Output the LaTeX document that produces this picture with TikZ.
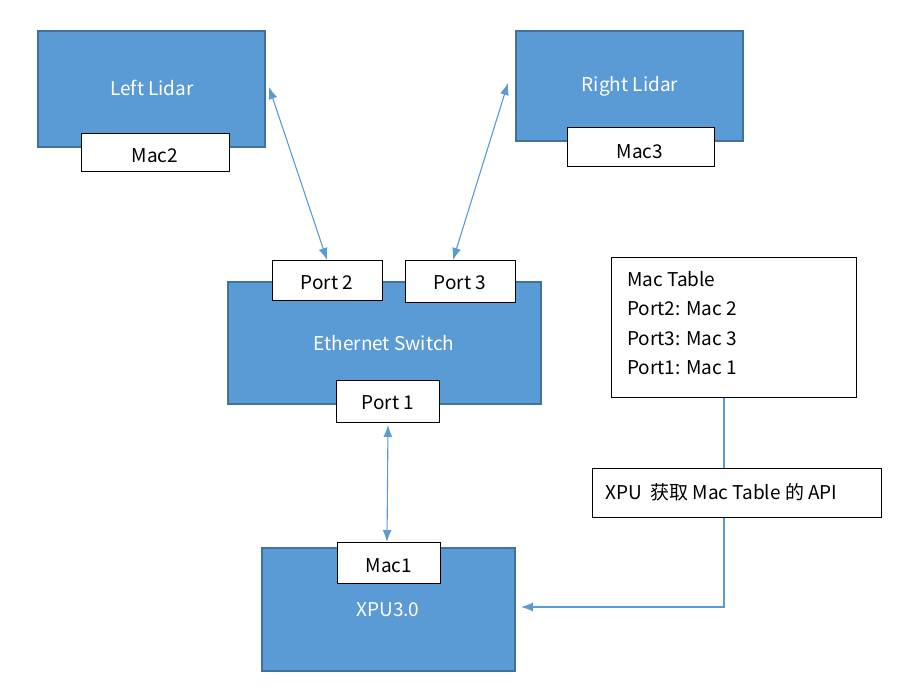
\documentclass[tikz,border=0pt]{standalone}
\usepackage{fontspec}
\setmainfont{Noto Sans CJK SC}
\usetikzlibrary{arrows.meta}
\definecolor{boxfill}{HTML}{5B9BD5}
\definecolor{boxedge}{HTML}{41719C}
\definecolor{linec}{HTML}{5B9BD5}
\begin{document}
\begin{tikzpicture}[x=1pt,y=-1pt,
  bluebox/.style={draw=boxedge,fill=boxfill,line width=1.6pt,inner sep=0pt,text=white},
  whitebox/.style={draw=black,fill=white,line width=1pt,inner sep=0pt},
  link/.style={draw=linec,line width=1.1pt,{Latex[length=12pt,width=9pt]}-{Latex[length=12pt,width=9pt]}},
  lbl/.style={font=\fontsize{19}{21}\selectfont,inner sep=0pt}
]
\useasboundingbox (0,0) rectangle (916,691);
% blue boxes
\draw[bluebox] (38,31) rectangle (265,147);
\node[lbl,text=white] (ll) at (152,88) {Left Lidar};
\draw[bluebox] (516,31) rectangle (743,141);
\node[lbl,text=white] (rl) at (630,86) {Right Lidar};
\draw[bluebox] (228,282) rectangle (541,404);
\node[lbl,text=white] (es) at (384,343) {Ethernet Switch};
\draw[bluebox] (262,548) rectangle (515,671);
\node[lbl,text=white] (xpu) at (388,610) {XPU3.0};
% white labels
\draw[whitebox] (81,133) rectangle (229,171);
\node[lbl] (mac2) at (155,156) {Mac2};
\draw[whitebox] (567,127) rectangle (714,166);
\node[lbl] (mac3) at (640,152) {Mac3};
\draw[whitebox] (272,260) rectangle (382,300);
\node[lbl] (p2) at (327,283) {Port 2};
\draw[whitebox] (405,260) rectangle (515,302);
\node[lbl] (p3) at (460,283) {Port 3};
\draw[whitebox] (336,380) rectangle (439,422);
\node[lbl] (p1) at (388,403) {Port 1};
\draw[whitebox] (337,542) rectangle (440,583);
\node[lbl] (mac1) at (389,566) {Mac1};
% connectors
\coordinate (a1) at (269,87);
\coordinate (a2) at (327,260);
\coordinate (b1) at (508,83);
\coordinate (b2) at (453,260);
\coordinate (c1) at (388,425);
\coordinate (c2) at (387,542);
\draw[link] (a1) -- (a2);
\draw[link] (b1) -- (b2);
\draw[link] (c1) -- (c2);
\coordinate (t1) at (724,397);
\coordinate (t2) at (521,607);
\draw[draw=linec,line width=1.1pt,-{Latex[length=12pt,width=9pt]}] (t1) -- (724,607) -- (t2);
% mac table
\draw[whitebox] (611,257) rectangle (856,397);
\node[lbl,anchor=west] (m0) at (627,279) {Mac Table};
\node[lbl,anchor=west] (m1) at (627,309) {Port2: Mac 2};
\node[lbl,anchor=west] (m2) at (627,339) {Port3: Mac 3};
\node[lbl,anchor=west] (m3) at (627,368) {Port1: Mac 1};
% api
\draw[whitebox] (592,468) rectangle (881,517);
\node[lbl,anchor=west] (api) at (605,492) {XPU\ \ 获取 Mac Table 的 API};
\end{tikzpicture}
\end{document}
